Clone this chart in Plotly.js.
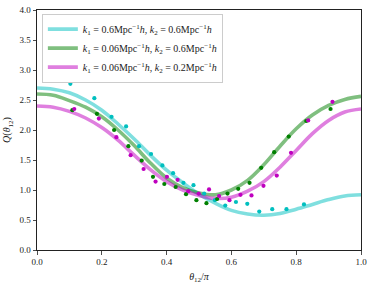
<!DOCTYPE html>
<html><head><meta charset="utf-8">
<script src="https://cdn.plot.ly/plotly-3.0.1.min.js"></script>
<style>html,body{margin:0;padding:0;background:#fff}#plot{width:373px;height:285px}</style>
</head><body><div id="plot"></div>
<script>
// Curve grid (theta12/pi)
const curveX = [0,0.05,0.1,0.15,0.2,0.25,0.3,0.35,0.4,0.45,0.5,0.55,0.6,0.65,0.7,0.75,0.8,0.85,0.9,0.95,1.0];
const curveCyan = [2.70,2.68,2.62,2.50,2.33,2.10,1.85,1.58,1.33,1.12,0.93,0.78,0.66,0.60,0.58,0.61,0.68,0.76,0.84,0.90,0.92];
const curveGreen = [2.60,2.58,2.49,2.38,2.22,2.00,1.74,1.45,1.20,1.04,0.95,0.92,1.00,1.16,1.42,1.73,2.02,2.25,2.41,2.51,2.56];
const curveMagenta = [2.40,2.38,2.31,2.20,2.04,1.83,1.58,1.34,1.14,1.00,0.91,0.86,0.88,0.98,1.14,1.38,1.66,1.94,2.16,2.30,2.35];

// Measured points
const cyanX = [0.103,0.177,0.230,0.275,0.315,0.352,0.387,0.420,0.452,0.483,0.516,0.549,0.581,0.614,0.649,0.686,0.726,0.770,0.824];
const cyanY = [2.77,2.53,2.22,2.06,1.73,1.60,1.41,1.28,1.12,1.08,0.94,0.83,0.74,0.80,0.77,0.64,0.68,0.68,0.76];
const greenX = [0.109,0.185,0.238,0.282,0.323,0.358,0.393,0.428,0.460,0.492,0.523,0.556,0.588,0.621,0.656,0.692,0.732,0.777,0.831,0.906];
const greenY = [2.33,2.27,2.00,1.73,1.49,1.22,1.10,1.05,0.93,0.83,0.78,0.85,0.94,1.02,1.12,1.37,1.63,1.89,2.15,2.35];
const magX = [0.115,0.191,0.245,0.289,0.329,0.366,0.401,0.434,0.467,0.499,0.531,0.562,0.594,0.628,0.662,0.699,0.740,0.784,0.837,0.912];
const magY = [2.35,2.19,1.88,1.58,1.35,1.14,1.22,1.17,0.98,0.94,1.01,0.90,0.83,0.92,0.91,1.07,1.24,1.62,2.16,2.47];

const labels = [
  "<i>k</i><sub>1</sub> = 0.6Mpc<sup>−1</sup><i>h</i>, <i>k</i><sub>2</sub> = 0.6Mpc<sup>−1</sup><i>h</i>",
  "<i>k</i><sub>1</sub> = 0.06Mpc<sup>−1</sup><i>h</i>, <i>k</i><sub>2</sub> = 0.6Mpc<sup>−1</sup><i>h</i>",
  "<i>k</i><sub>1</sub> = 0.06Mpc<sup>−1</sup><i>h</i>, <i>k</i><sub>2</sub> = 0.2Mpc<sup>−1</sup><i>h</i>"
];
const xTicks = [0,0.2,0.4,0.6,0.8,1.0];
const yTicks = [0,0.5,1.0,1.5,2.0,2.5,3.0,3.5,4.0];

const F = "Liberation Serif, DejaVu Serif, serif";
const lineW = 3.6, ms = 4.2;
const traces = [
  {x: curveX, y: curveCyan, mode:'lines', line:{color:'rgba(0,191,191,0.5)', width:lineW, shape:'spline'}, name: labels[0]},
  {x: curveX, y: curveGreen, mode:'lines', line:{color:'rgba(0,128,0,0.5)', width:lineW, shape:'spline'}, name: labels[1]},
  {x: curveX, y: curveMagenta, mode:'lines', line:{color:'rgba(191,0,191,0.5)', width:lineW, shape:'spline'}, name: labels[2]},
  {x: cyanX, y: cyanY, mode:'markers', marker:{color:'#00bfbf', size:ms}, showlegend:false},
  {x: greenX, y: greenY, mode:'markers', marker:{color:'#008000', size:ms}, showlegend:false},
  {x: magX, y: magY, mode:'markers', marker:{color:'#bf00bf', size:ms}, showlegend:false}
];
const axisCommon = {showgrid:false, zeroline:false, showline:true, linecolor:'#222', linewidth:1, mirror:true,
  ticks:'outside', ticklen:3.5, tickwidth:0.8, tickcolor:'#222', tickfont:{family:F, size:9, color:'#222'}, tickformat:'.1f'};
const layout = {
  width:373, height:285, margin:{l:37, r:12, t:10, b:35},
  paper_bgcolor:'#fff', plot_bgcolor:'#fff',
  font:{family:F, color:'#222'},
  xaxis: Object.assign({}, axisCommon, {range:[0,1], tickvals:xTicks,
    title:{text:'<i>θ</i><sub>12</sub>/<i>π</i>', font:{family:F, size:10}, standoff:6}}),
  yaxis: Object.assign({}, axisCommon, {range:[0,4], tickvals:yTicks,
    title:{text:'<i>Q</i>(<i>θ</i><sub>12</sub>)', font:{family:F, size:10}, standoff:6}}),
  legend:{x:0.015, y:0.985, xanchor:'left', yanchor:'top', bgcolor:'rgba(255,255,255,0.85)',
    bordercolor:'#ccc', borderwidth:1, font:{family:F, size:10, color:'#222'}, tracegroupgap:0,
    itemwidth:30},
  showlegend:true
};
Plotly.newPlot('plot', traces, layout, {displayModeBar:false, staticPlot:true});
</script></body></html>
